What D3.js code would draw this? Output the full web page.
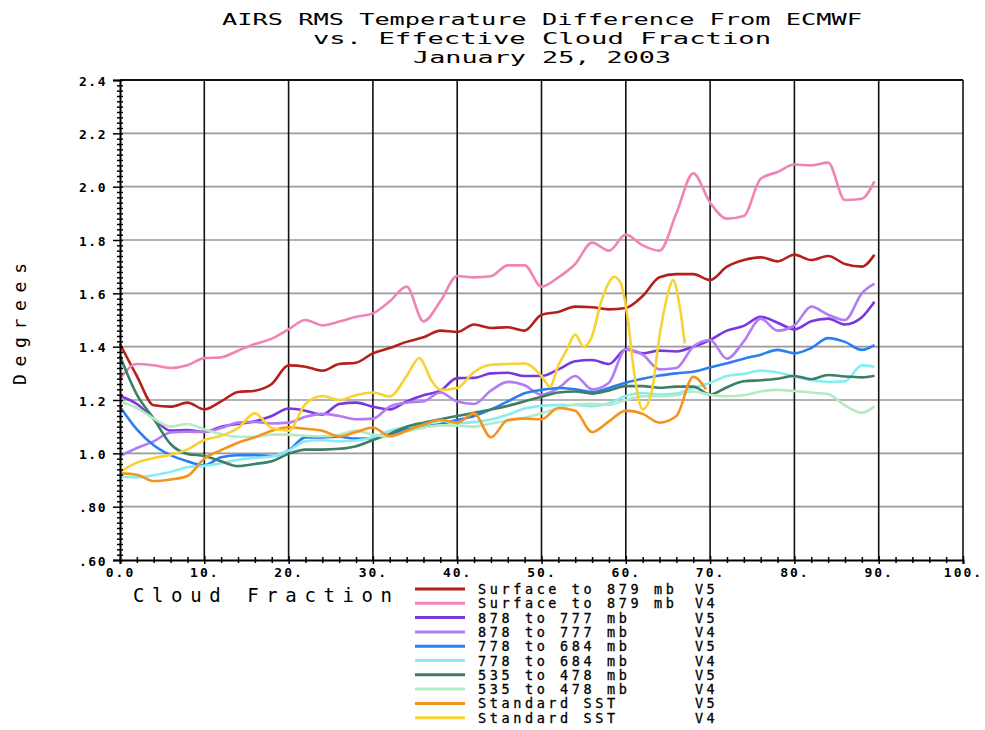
<!DOCTYPE html>
<html>
<head>
<meta charset="utf-8">
<script src="https://cdnjs.cloudflare.com/ajax/libs/d3/7.8.5/d3.min.js"></script>
<style>
  body { margin: 0; background: #fff; }
  text { font-family: 'DejaVu Sans Mono', monospace; fill: #000; }
</style>
</head>
<body>
<script>
  'use strict';

  // cloud fraction samples shared by the eight layer curves
  var cloudFraction = [0,2,4,6,8,10,12,14,16,18,20,22,24,26,28,30,32,34,36,38,
                       40,42,44,46,48,50,52,54,56,58,60,62,64,66,68,70,72,74,76,78,
                       80,82,84,86,88,89.5];

  var surfV5 = [1.41,1.29,1.18,1.175,1.19,1.165,1.195,1.23,1.235,1.26,
                1.33,1.325,1.31,1.335,1.34,1.375,1.395,1.418,1.435,1.46,
                1.455,1.483,1.47,1.473,1.46,1.52,1.53,1.55,1.548,1.54,
                1.545,1.59,1.66,1.672,1.672,1.65,1.7,1.725,1.735,1.72,
                1.745,1.725,1.74,1.71,1.70,1.745];
  var surfV4 = [1.28,1.335,1.33,1.32,1.33,1.357,1.36,1.385,1.41,1.43,
                1.465,1.5,1.48,1.494,1.512,1.525,1.57,1.625,1.495,1.57,
                1.665,1.66,1.664,1.705,1.705,1.625,1.66,1.71,1.79,1.76,
                1.82,1.78,1.76,1.9,2.05,1.94,1.88,1.89,2.03,2.055,
                2.083,2.08,2.09,1.95,1.955,2.02];
  var mb878V5 = [1.215,1.185,1.13,1.085,1.087,1.08,1.1,1.11,1.12,1.14,
                 1.168,1.16,1.145,1.185,1.19,1.175,1.165,1.195,1.218,1.235,
                 1.282,1.283,1.3,1.302,1.29,1.29,1.315,1.345,1.35,1.335,
                 1.39,1.375,1.385,1.382,1.4,1.425,1.46,1.478,1.512,1.49,
                 1.465,1.495,1.505,1.483,1.51,1.568];
  var mb878V4 = [0.99,1.02,1.045,1.078,1.081,1.08,1.095,1.115,1.118,1.112,
                 1.115,1.137,1.148,1.14,1.128,1.13,1.175,1.19,1.195,1.228,
                 1.194,1.185,1.235,1.268,1.255,1.22,1.245,1.29,1.24,1.265,
                 1.39,1.37,1.315,1.32,1.4,1.425,1.355,1.42,1.505,1.46,
                 1.48,1.55,1.52,1.5,1.6,1.636];
  var mb778V5 = [1.175,1.09,1.03,0.993,0.97,0.955,0.985,0.993,0.993,0.99,
                 1.011,1.06,1.06,1.062,1.055,1.057,1.07,1.09,1.1,1.11,
                 1.125,1.14,1.165,1.195,1.225,1.238,1.245,1.24,1.23,1.245,
                 1.265,1.28,1.292,1.3,1.306,1.322,1.338,1.355,1.37,1.388,
                 1.375,1.395,1.432,1.418,1.388,1.406];
  var mb778V4 = [0.912,0.91,0.918,0.93,0.948,0.953,0.963,0.976,0.983,0.988,
                 1.01,1.045,1.049,1.045,1.048,1.06,1.085,1.1,1.106,1.122,
                 1.113,1.117,1.127,1.145,1.168,1.178,1.181,1.181,1.177,1.188,
                 1.215,1.226,1.22,1.224,1.245,1.265,1.29,1.298,1.31,1.303,
                 1.288,1.275,1.268,1.27,1.33,1.325];
  var mb535V5 = [1.365,1.22,1.13,1.035,0.998,0.99,0.97,0.952,0.96,0.97,
                 0.998,1.014,1.014,1.017,1.027,1.05,1.073,1.1,1.115,1.128,
                 1.14,1.152,1.164,1.178,1.195,1.212,1.228,1.232,1.224,1.236,
                 1.252,1.252,1.246,1.25,1.25,1.22,1.248,1.27,1.274,1.28,
                 1.29,1.278,1.294,1.288,1.285,1.291];
  var mb535V4 = [1.194,1.17,1.13,1.1,1.11,1.09,1.072,1.062,1.062,1.07,
                 1.07,1.066,1.064,1.07,1.085,1.07,1.062,1.082,1.096,1.105,
                 1.104,1.1,1.112,1.122,1.133,1.15,1.17,1.183,1.186,1.182,
                 1.2,1.214,1.214,1.218,1.232,1.22,1.214,1.218,1.232,1.238,
                 1.234,1.228,1.222,1.18,1.152,1.176];

  // the two SST curves stop short of 70 %
  var sstV5X = [0,2,4,6,8,10,12,14,16,18,20,22,24,26,28,30,32,34,36,38,
                40,42,44,46,48,50,52,54,56,58,60,62,64,66,68,69.5];
  var sstV5 = [0.925,0.92,0.896,0.902,0.915,0.98,1.012,1.04,1.06,1.085,
               1.098,1.092,1.085,1.063,1.08,1.097,1.065,1.085,1.108,1.125,
               1.115,1.15,1.06,1.125,1.13,1.128,1.17,1.16,1.08,1.12,
               1.16,1.148,1.115,1.14,1.287,1.24];
  var sstV4X = [0,2,4,6,8,10,12,14,16,18,20,22,24,26,28,30,32,34,35.5,37,38,
                40,42,44,46,48,50,51,52,53,54,55,56,57,58,58.6,59.4,60.2,61,
                62,63,64,65,65.6,66.4,67];
  var sstV4 = [0.93,0.965,0.982,0.995,1.015,1.05,1.066,1.095,1.15,1.095,1.085,
               1.185,1.215,1.2,1.218,1.228,1.213,1.29,1.357,1.27,1.238,
               1.245,1.305,1.332,1.335,1.337,1.29,1.25,1.33,1.388,1.445,1.4,
               1.44,1.56,1.64,1.662,1.638,1.512,1.3,1.165,1.22,1.44,1.6,1.65,
               1.55,1.412];

  var layerNames = ['Surface to 879 mb', 'Surface to 879 mb', '878 to 777 mb', '878 to 777 mb',
                    '778 to 684 mb', '778 to 684 mb', '535 to 478 mb', '535 to 478 mb',
                    'Standard SST', 'Standard SST'];
  var versions = ['V5', 'V4', 'V5', 'V4', 'V5', 'V4', 'V5', 'V4', 'V5', 'V4'];
  var yTicks = [0.6, 0.8, 1.0, 1.2, 1.4, 1.6, 1.8, 2.0, 2.2, 2.4];
  var xTicks = [0, 10, 20, 30, 40, 50, 60, 70, 80, 90, 100];

  var colors = ['#b5201c', '#f084b6', '#7a36e0', '#b27cf4', '#2a7ef2',
                '#86eef2', '#3e7e64', '#b4eac4', '#f4941e', '#f8d232'];

  var seriesX = [cloudFraction, cloudFraction, cloudFraction, cloudFraction, cloudFraction,
                 cloudFraction, cloudFraction, cloudFraction, sstV5X, sstV4X];
  var seriesY = [surfV5, surfV4, mb878V5, mb878V4, mb778V5, mb778V4, mb535V5, mb535V4, sstV5, sstV4];

  var svg = d3.select('body').append('svg')
      .attr('width', 985)
      .attr('height', 730);

  var x = d3.scaleLinear().domain([0, 100]).range([120, 963]);
  var y = d3.scaleLinear().domain([0.6, 2.4]).range([560, 80]);

  // title
  var title = ['AIRS RMS Temperature Difference From ECMWF',
               'vs. Effective Cloud Fraction',
               'January 25, 2003'];
  var titleLen = [640, 458, 258];
  svg.selectAll('.title')
    .data(title)
    .enter().append('text')
      .attr('class', 'title')
      .attr('x', 542)
      .attr('y', function (d, i) { return 25 + i * 19; })
      .attr('text-anchor', 'middle')
      .attr('textLength', function (d, i) { return titleLen[i]; })
      .attr('lengthAdjust', 'spacingAndGlyphs')
      .style('font-size', '16px')
      .text(function (d) { return d; });

  // grid
  svg.append('g').selectAll('line')
    .data(yTicks.slice(1, -1))
    .enter().append('line')
      .attr('x1', x(0)).attr('x2', x(100))
      .attr('y1', function (d) { return y(d); })
      .attr('y2', function (d) { return y(d); })
      .attr('stroke', '#9a9a9a')
      .attr('stroke-width', 1.6);

  svg.append('g').selectAll('line')
    .data(xTicks.slice(1))
    .enter().append('line')
      .attr('y1', y(0.6)).attr('y2', y(2.4))
      .attr('x1', function (d) { return x(d); })
      .attr('x2', function (d) { return x(d); })
      .attr('stroke', '#111')
      .attr('stroke-width', 1.6);

  svg.append('line')
    .attr('x1', x(0)).attr('x2', x(100))
    .attr('y1', y(2.4)).attr('y2', y(2.4))
    .attr('stroke', '#111').attr('stroke-width', 1.8);

  // curves
  var line = d3.line()
      .x(function (d) { return x(d[0]); })
      .y(function (d) { return y(d[1]); })
      .curve(d3.curveMonotoneX);

  seriesY.forEach(function (vals, i) {
    var pts = vals.map(function (v, j) { return [seriesX[i][j], v]; });
    svg.append('path')
      .datum(pts)
      .attr('d', line)
      .attr('fill', 'none')
      .attr('stroke', colors[i])
      .attr('stroke-width', 2.6)
      .attr('stroke-linejoin', 'round');
  });

  // y axis
  var fmtY = function (v) {
    return v < 1 ? '.' + d3.format('.2f')(v).slice(2) : d3.format('.1f')(v);
  };
  var yAxis = svg.append('g')
      .attr('transform', 'translate(' + x(0) + ',0)')
      .call(d3.axisLeft(y).tickValues(yTicks).tickSize(7).tickFormat(fmtY).tickPadding(6));
  yAxis.select('.domain').attr('stroke', '#000').attr('stroke-width', 2);
  yAxis.selectAll('.tick line').attr('x1', 3).attr('stroke-width', 1.5);
  yAxis.selectAll('.tick text')
    .style('font-size', '13px').style('font-weight', 'bold')
    .style('letter-spacing', '1.5px').attr('dy', '0.4em');

  var yMinor = d3.range(0.62, 2.4, 0.02).filter(function (v) {
    return Math.abs(Math.round(v * 5) - v * 5) > 0.01;
  });
  svg.append('g')
    .attr('transform', 'translate(' + (x(0) + 3) + ',0)')
    .call(d3.axisLeft(y).tickValues(yMinor).tickSize(6).tickFormat(''))
    .call(function (g) { g.select('.domain').remove(); })
    .selectAll('.tick line').attr('stroke-width', 1.5);

  // x axis
  var xAxis = svg.append('g')
      .attr('transform', 'translate(0,' + y(0.6) + ')')
      .call(d3.axisBottom(x).tickValues(xTicks).tickSize(4)
        .tickFormat(function (d) { return d === 0 ? '0.0' : d + '.'; }).tickPadding(4));
  xAxis.select('.domain').attr('stroke', '#000').attr('stroke-width', 2);
  xAxis.selectAll('.tick line').attr('y1', -4).attr('stroke-width', 1.5);
  xAxis.selectAll('.tick text')
    .style('font-size', '13px').style('font-weight', 'bold')
    .style('letter-spacing', '2px');

  var xMinor = d3.range(2, 100, 2).filter(function (v) { return v % 10 !== 0; });
  svg.append('g')
    .attr('transform', 'translate(0,' + (y(0.6) - 3) + ')')
    .call(d3.axisBottom(x).tickValues(xMinor).tickSize(6).tickFormat(''))
    .call(function (g) { g.select('.domain').remove(); })
    .selectAll('.tick line').attr('stroke-width', 1.5);

  // axis titles
  svg.append('text')
    .attr('x', 133).attr('y', 602)
    .attr('textLength', 259).attr('lengthAdjust', 'spacing')
    .style('font-size', '19px')
    .text('Cloud Fraction');

  svg.append('text')
    .attr('transform', 'translate(26,324) rotate(-90)')
    .attr('text-anchor', 'middle')
    .attr('textLength', 122).attr('lengthAdjust', 'spacing')
    .style('font-size', '18px')
    .text('Degrees');

  // legend
  var legend = svg.append('g').selectAll('g')
    .data(layerNames)
    .enter().append('g')
      .attr('transform', function (d, i) { return 'translate(0,' + (589 + i * 14.3) + ')'; });

  legend.append('line')
    .attr('x1', 415).attr('x2', 465)
    .attr('stroke', function (d, i) { return colors[i]; })
    .attr('stroke-width', 3);

  legend.append('text')
    .attr('x', 478).attr('y', 5)
    .style('font-size', '13.5px')
    .style('letter-spacing', '3.6px')
    .style('stroke', '#000').style('stroke-width', 0.3)
    .text(function (d) { return d; });

  legend.append('text')
    .attr('x', 695).attr('y', 5)
    .style('font-size', '13.5px')
    .style('letter-spacing', '3.3px')
    .style('stroke', '#000').style('stroke-width', 0.3)
    .text(function (d, i) { return versions[i]; });
</script>
</body>
</html>
